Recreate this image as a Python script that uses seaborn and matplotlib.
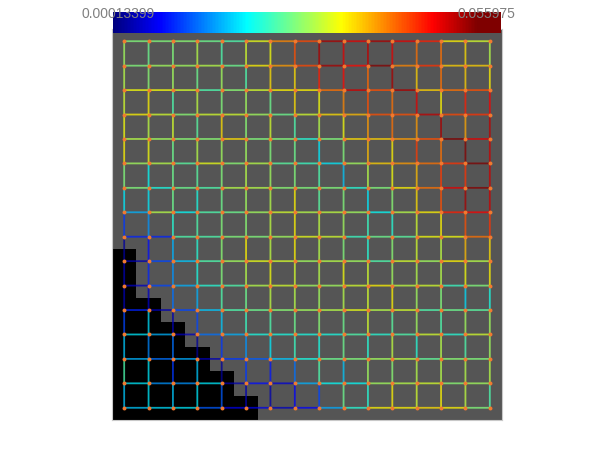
import numpy as np
import seaborn as sns
import matplotlib
matplotlib.use("Agg")
import matplotlib.pyplot as plt
from matplotlib.cm import ScalarMappable
from matplotlib.collections import LineCollection
from matplotlib.colors import LinearSegmentedColormap, ListedColormap, Normalize

# color range shown on the bar
range_min_label = "0.00013399"
range_max_label = "0.055975"

# first masked row per column, columns not listed are not masked
mask_start = [9, 11, 12, 13, 14, 15]

# edge values, as a fraction of the range
horizontal = [
    [.47, .47, .48, .45, .42, .57, .70, .76, .90, .85, .90, .85, .80, .60, .55],
    [.47, .50, .50, .52, .45, .60, .68, .76, .90, .82, .93, .70, .78, .63, .63],
    [.58, .58, .55, .42, .48, .55, .60, .60, .72, .87, .75, .90, .63, .72, .75],
    [.60, .55, .48, .55, .55, .50, .45, .55, .62, .65, .75, .75, .88, .76, .78],
    [.52, .50, .48, .48, .62, .47, .47, .38, .47, .62, .63, .68, .75, .95, .85],
    [.50, .52, .43, .57, .48, .52, .43, .40, .33, .50, .63, .68, .72, .78, .95],
    [.47, .37, .45, .42, .52, .52, .48, .47, .47, .38, .47, .60, .72, .85, .93],
    [.28, .52, .35, .42, .45, .50, .55, .52, .53, .50, .35, .52, .60, .80, .83],
    [.15, .15, .42, .42, .47, .47, .50, .57, .55, .40, .45, .43, .58, .58, .72],
    [.05, .18, .30, .42, .50, .57, .55, .50, .52, .50, .42, .55, .50, .60, .52],
    [.07, .18, .28, .38, .42, .52, .55, .50, .50, .55, .60, .53, .55, .40, .47],
    [.15, .05, .18, .30, .42, .45, .48, .50, .52, .57, .52, .55, .42, .45, .43],
    [.33, .28, .06, .22, .28, .37, .37, .37, .37, .42, .38, .42, .55, .38, .55],
    [.28, .22, .27, .05, .17, .20, .30, .37, .45, .47, .50, .52, .44, .48, .47],
    [.33, .25, .25, .33, .05, .13, .08, .28, .35, .35, .50, .52, .55, .48, .50],
    [.30, .32, .33, .20, .10, .10, .06, .12, .27, .38, .60, .60, .62, .60, .47],
]
vertical = [
    [.50, .45, .47, .52, .42, .55, .58, .75, .90, .85, .88, .85, .72, .72, .62, .52],
    [.52, .48, .50, .45, .50, .42, .62, .62, .80, .82, .73, .90, .63, .72, .63, .60],
    [.55, .60, .42, .53, .47, .50, .45, .62, .58, .70, .75, .72, .85, .60, .80, .83],
    [.58, .53, .55, .43, .62, .48, .55, .42, .52, .58, .68, .72, .68, .90, .67, .88],
    [.60, .58, .45, .52, .50, .50, .47, .45, .33, .47, .65, .60, .77, .72, .93, .87],
    [.47, .35, .45, .43, .47, .52, .50, .47, .42, .30, .52, .58, .65, .77, .78, .87],
    [.33, .33, .45, .37, .45, .50, .52, .60, .43, .47, .33, .48, .62, .75, .90, .87],
    [.17, .25, .38, .42, .47, .48, .53, .60, .53, .50, .40, .38, .55, .60, .75, .78],
    [.03, .13, .28, .38, .48, .60, .53, .60, .52, .47, .38, .48, .55, .53, .65, .62],
    [.05, .15, .25, .37, .47, .52, .58, .55, .52, .58, .55, .50, .52, .52, .58, .60],
    [.05, .07, .22, .28, .42, .45, .53, .52, .50, .52, .55, .60, .50, .47, .32, .37],
    [.18, .32, .05, .18, .30, .40, .42, .45, .48, .45, .55, .43, .50, .42, .50, .50],
    [.30, .24, .22, .03, .17, .25, .33, .40, .37, .45, .38, .53, .38, .52, .42, .50],
    [.42, .33, .17, .30, .03, .17, .14, .22, .42, .30, .50, .48, .52, .52, .52, .52],
    [.30, .33, .30, .33, .20, .05, .05, .12, .18, .45, .38, .60, .55, .60, .53, .42],
]

sns.set_theme(style="white")
plt.rcParams["font.family"] = ["Liberation Sans", "DejaVu Sans"]

W, H = 608, 453
fig = plt.figure(figsize=(W / 100, H / 100), dpi=100)
fig.patch.set_facecolor("white")

edge_cmap = LinearSegmentedColormap.from_list(
    "bar_jet",
    [(0, "#00007f"), (.12, "#0000ff"), (.345, "#00ffff"), (.59, "#ffff00"),
     (.825, "#ff0000"), (.94, "#7f0000"), (1, "#7f0000")],
)
norm = Normalize(0, 1)

# background cells
n = len(horizontal)
cells = np.ones((n, n))
for col, start in enumerate(mask_start):
    cells[start:, col] = 0

ax = fig.add_axes([112 / W, 1 - 420 / H, 390 / W, 391 / H])
sns.heatmap(cells, ax=ax, cmap=ListedColormap(["#000000", "#555555"]), vmin=0, vmax=1,
            cbar=False, xticklabels=False, yticklabels=False, square=False)
for side in ax.spines.values():
    side.set_visible(True)
    side.set_color("#c8c8c8")
    side.set_linewidth(0.8)

# edges between grid nodes
segments, values = [], []
for r, row in enumerate(horizontal):
    for c, v in enumerate(row):
        segments.append([(c + .5, r + .5), (c + 1.5, r + .5)])
        values.append(v)
for r, row in enumerate(vertical):
    for c, v in enumerate(row):
        segments.append([(c + .5, r + .5), (c + .5, r + 1.5)])
        values.append(v)
lines = LineCollection(segments, cmap=edge_cmap, norm=norm, linewidths=1.3, alpha=0.75)
lines.set_array(np.array(values))
lines.set_snap(False)
ax.add_collection(lines)

# nodes
gx, gy = np.meshgrid(np.arange(n) + .5, np.arange(n) + .5)
nodes = ax.scatter(gx.ravel(), gy.ravel(), s=8, marker="o", color="#f07a30", linewidths=0, zorder=3)
nodes.set_snap(False)

# color bar on top of the grid
cax = fig.add_axes([113 / W, 1 - 33 / H, 388 / W, 21 / H])
bar = fig.colorbar(ScalarMappable(norm=norm, cmap=edge_cmap), cax=cax, orientation="horizontal")
bar.set_ticks([])
bar.outline.set_visible(False)

fig.text(82 / W, 1 - 14.5 / H, range_min_label, color="#808080", fontsize=10, ha="left", va="center")
fig.text(515 / W, 1 - 14.5 / H, range_max_label, color="#808080", fontsize=10, ha="right", va="center")

fig.savefig("out.png", dpi=100)
